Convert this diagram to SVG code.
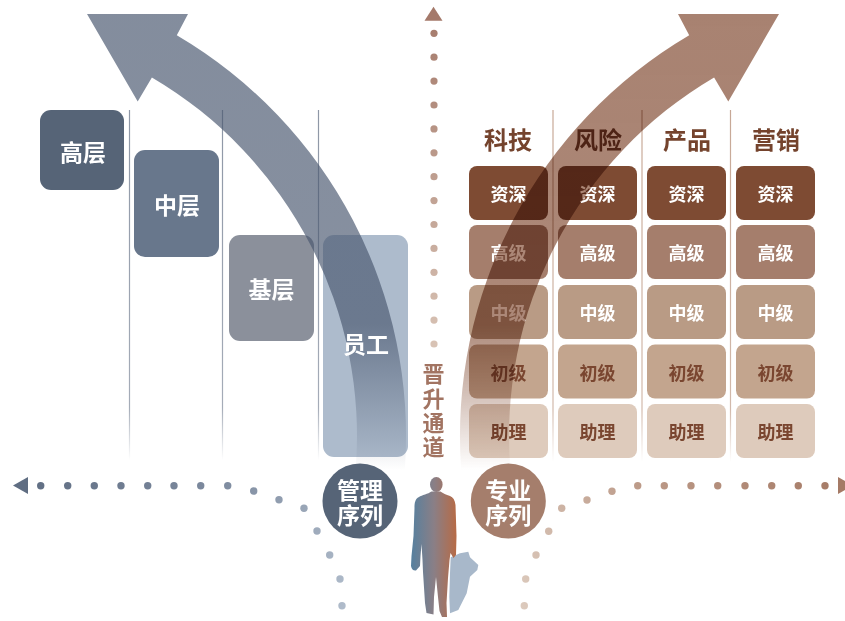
<svg xmlns="http://www.w3.org/2000/svg" xmlns:xlink="http://www.w3.org/1999/xlink" width="845" height="621" viewBox="0 0 845 621">
  <defs>
    <style>
      text { font-family: "Noto Sans CJK SC", "Noto Sans", sans-serif; font-weight: 700; text-anchor: middle; dominant-baseline: central; }
      .lbl-w { fill: #ffffff; }
      .box-t { font-size: 23px; }
      .head { font-size: 24px; fill: #74432d; }
      .cell-t { font-size: 18px; }
      .cell-d { fill: #7a4630; }
      .circ-t { font-size: 23px; fill: #ffffff; }
      .vert { font-size: 22px; fill: #a27462; }
      .grid-l { stroke: url(#lineFadeL); stroke-width: 1.2; }
      .grid-r { stroke: url(#lineFadeR); stroke-width: 1.2; }
      .r0 { fill: #7e4b33; }
      .r1 { fill: #a57e6c; }
      .r2 { fill: #b99b85; }
      .r3 { fill: #c3a58e; }
      .r4 { fill: #decbbc; }
    </style>
    <!-- vertical fades for the curved bands and grid lines -->
    <linearGradient id="bandFadeL" gradientUnits="userSpaceOnUse" x1="0" y1="14" x2="0" y2="470">
      <stop offset="0" stop-color="#49576f" stop-opacity="0.68"/>
      <stop offset="0.68" stop-color="#49576f" stop-opacity="0.66"/>
      <stop offset="1" stop-color="#49576f" stop-opacity="0"/>
    </linearGradient>
    <linearGradient id="bandFadeR" gradientUnits="userSpaceOnUse" x1="0" y1="14" x2="0" y2="470">
      <stop offset="0" stop-color="#a88271" stop-opacity="1"/>
      <stop offset="0.68" stop-color="#a88271" stop-opacity="0.95"/>
      <stop offset="1" stop-color="#a88271" stop-opacity="0"/>
    </linearGradient>
    <linearGradient id="lineFadeL" gradientUnits="userSpaceOnUse" x1="0" y1="110" x2="0" y2="460">
      <stop offset="0" stop-color="#8e97a6"/>
      <stop offset="0.85" stop-color="#8e97a6" stop-opacity="0.8"/>
      <stop offset="1" stop-color="#8e97a6" stop-opacity="0"/>
    </linearGradient>
    <linearGradient id="lineFadeR" gradientUnits="userSpaceOnUse" x1="0" y1="110" x2="0" y2="462">
      <stop offset="0" stop-color="#c7a896"/>
      <stop offset="0.85" stop-color="#c7a896" stop-opacity="0.8"/>
      <stop offset="1" stop-color="#c7a896" stop-opacity="0"/>
    </linearGradient>
    <!-- dotted path colours -->
    <linearGradient id="dotsV" gradientUnits="userSpaceOnUse" x1="0" y1="10" x2="0" y2="350">
      <stop offset="0" stop-color="#a4796a"/>
      <stop offset="1" stop-color="#d9c4b6"/>
    </linearGradient>
    <linearGradient id="dotsL" gradientUnits="userSpaceOnUse" x1="20" y1="486" x2="345" y2="610">
      <stop offset="0" stop-color="#5f6d82"/>
      <stop offset="0.55" stop-color="#7f8ca0"/>
      <stop offset="1" stop-color="#b0bccb"/>
    </linearGradient>
    <linearGradient id="dotsR" gradientUnits="userSpaceOnUse" x1="845" y1="486" x2="522" y2="610">
      <stop offset="0" stop-color="#a57a66"/>
      <stop offset="0.55" stop-color="#bc9a88"/>
      <stop offset="1" stop-color="#dccabd"/>
    </linearGradient>
    <linearGradient id="walker" gradientUnits="userSpaceOnUse" x1="411" y1="0" x2="457" y2="0">
      <stop offset="0" stop-color="#56809f"/>
      <stop offset="0.5" stop-color="#8a7f86"/>
      <stop offset="1" stop-color="#b86a44"/>
    </linearGradient>
    <!-- curved band with arrowhead, bending up to the right -->
    <path id="bend" d="M 461.2,470 A 465 465 0 0 1 689.2,35.2 L 678,14 L 779,14 L 728.3,101.5 L 714.1,77.4 A 416 416 0 0 0 510.4,470 Z"/>
  </defs>

  <rect width="845" height="621" fill="#ffffff"/>

  <!-- grid dividers -->
  <g id="grid-lines">
    <line class="grid-l" x1="129.5" y1="110" x2="129.5" y2="460"/>
    <line class="grid-l" x1="222.5" y1="110" x2="222.5" y2="460"/>
    <line class="grid-l" x1="318.5" y1="110" x2="318.5" y2="460"/>
    <line class="grid-r" x1="553" y1="110" x2="553" y2="462"/>
    <line class="grid-r" x1="642" y1="110" x2="642" y2="462"/>
    <line class="grid-r" x1="730.5" y1="110" x2="730.5" y2="462"/>
  </g>

  <!-- management ladder -->
  <g id="node-gaoceng"><rect x="40" y="110" width="84" height="80" rx="11" fill="#566477"/><text class="box-t lbl-w" x="83" y="151">高层</text></g>
  <g id="node-zhongceng"><rect x="134" y="150" width="85" height="107" rx="11" fill="#68778c"/><text class="box-t lbl-w" x="177" y="204">中层</text></g>
  <g id="node-jiceng"><rect x="229" y="235" width="85" height="106" rx="11" fill="#8b909b"/><text class="box-t lbl-w" x="271.5" y="287.5">基层</text></g>
  <g id="node-yuangong-box"><rect x="323" y="235" width="85" height="222" rx="11" fill="#adbbcc"/></g>

  <!-- left band (management path) -->
  <g id="connectors-bands">
    <use xlink:href="#bend" href="#bend" fill="url(#bandFadeL)" transform="matrix(-1 0 0 1 866 0)"/>
  </g>
  <g id="node-yuangong"><text class="box-t lbl-w" x="366" y="343">员工</text></g>

  <!-- professional grid -->
  <g id="headers">
    <text class="head" x="508" y="138">科技</text>
    <text class="head" x="598" y="138">风险</text>
    <text class="head" x="687" y="138">产品</text>
    <text class="head" x="776" y="138">营销</text>
  </g>
  <g id="cells">
    <g id="col-keji">
      <rect class="r0" x="469" y="166" width="79" height="54" rx="8"/><text class="cell-t lbl-w" x="508.5" y="193">资深</text>
      <rect class="r1" x="469" y="225" width="79" height="54" rx="8"/><text class="cell-t lbl-w" x="508.5" y="252">高级</text>
      <rect class="r2" x="469" y="285" width="79" height="54" rx="8"/><text class="cell-t lbl-w" x="508.5" y="312">中级</text>
      <rect class="r3" x="469" y="344.5" width="79" height="54" rx="8"/><text class="cell-t cell-d" x="508.5" y="371.5">初级</text>
      <rect class="r4" x="469" y="404" width="79" height="54" rx="8"/><text class="cell-t cell-d" x="508.5" y="431">助理</text>
    </g>
    <g id="col-fengxian">
      <rect class="r0" x="558" y="166" width="79" height="54" rx="8"/><text class="cell-t lbl-w" x="597.5" y="193">资深</text>
      <rect class="r1" x="558" y="225" width="79" height="54" rx="8"/><text class="cell-t lbl-w" x="597.5" y="252">高级</text>
      <rect class="r2" x="558" y="285" width="79" height="54" rx="8"/><text class="cell-t lbl-w" x="597.5" y="312">中级</text>
      <rect class="r3" x="558" y="344.5" width="79" height="54" rx="8"/><text class="cell-t cell-d" x="597.5" y="371.5">初级</text>
      <rect class="r4" x="558" y="404" width="79" height="54" rx="8"/><text class="cell-t cell-d" x="597.5" y="431">助理</text>
    </g>
    <g id="col-chanpin">
      <rect class="r0" x="647" y="166" width="79" height="54" rx="8"/><text class="cell-t lbl-w" x="686.5" y="193">资深</text>
      <rect class="r1" x="647" y="225" width="79" height="54" rx="8"/><text class="cell-t lbl-w" x="686.5" y="252">高级</text>
      <rect class="r2" x="647" y="285" width="79" height="54" rx="8"/><text class="cell-t lbl-w" x="686.5" y="312">中级</text>
      <rect class="r3" x="647" y="344.5" width="79" height="54" rx="8"/><text class="cell-t cell-d" x="686.5" y="371.5">初级</text>
      <rect class="r4" x="647" y="404" width="79" height="54" rx="8"/><text class="cell-t cell-d" x="686.5" y="431">助理</text>
    </g>
    <g id="col-yingxiao">
      <rect class="r0" x="736" y="166" width="79" height="54" rx="8"/><text class="cell-t lbl-w" x="775.5" y="193">资深</text>
      <rect class="r1" x="736" y="225" width="79" height="54" rx="8"/><text class="cell-t lbl-w" x="775.5" y="252">高级</text>
      <rect class="r2" x="736" y="285" width="79" height="54" rx="8"/><text class="cell-t lbl-w" x="775.5" y="312">中级</text>
      <rect class="r3" x="736" y="344.5" width="79" height="54" rx="8"/><text class="cell-t cell-d" x="775.5" y="371.5">初级</text>
      <rect class="r4" x="736" y="404" width="79" height="54" rx="8"/><text class="cell-t cell-d" x="775.5" y="431">助理</text>
    </g>
  </g>

  <!-- right band (professional path), multiplied over the grid -->
  <g id="connector-band-right" style="mix-blend-mode:multiply">
    <use xlink:href="#bend" href="#bend" fill="url(#bandFadeR)"/>
  </g>

  <!-- dotted axes -->
  <g id="connectors-dots">
    <polygon points="424.5,20.7 442.5,20.7 433.5,6.7" fill="#a4796a"/>
    <g fill="url(#dotsV)">
      <circle cx="434" cy="33.3" r="3.6"/><circle cx="434" cy="57.2" r="3.6"/><circle cx="434" cy="81.1" r="3.6"/>
      <circle cx="434" cy="105" r="3.6"/><circle cx="434" cy="128.9" r="3.6"/><circle cx="434" cy="152.8" r="3.6"/>
      <circle cx="434" cy="176.7" r="3.6"/><circle cx="434" cy="200.6" r="3.6"/><circle cx="434" cy="224.5" r="3.6"/>
      <circle cx="434" cy="248.4" r="3.6"/><circle cx="434" cy="272.3" r="3.6"/><circle cx="434" cy="296.2" r="3.6"/>
      <circle cx="434" cy="320.1" r="3.6"/><circle cx="434" cy="344" r="3.6"/>
    </g>
    <polygon points="13,485.5 28,477 28,494" fill="#5f6d82"/>
    <g fill="url(#dotsL)">
      <circle cx="40.7" cy="485.7" r="3.7"/><circle cx="67.7" cy="485.7" r="3.7"/><circle cx="94.3" cy="485.7" r="3.7"/>
      <circle cx="121" cy="485.7" r="3.7"/><circle cx="147.7" cy="485.7" r="3.7"/><circle cx="174" cy="485.7" r="3.7"/>
      <circle cx="200.7" cy="485.7" r="3.7"/><circle cx="227.7" cy="485.7" r="3.7"/><circle cx="253.7" cy="491" r="3.7"/>
      <circle cx="279" cy="499.7" r="3.7"/><circle cx="304" cy="508.3" r="3.7"/><circle cx="317" cy="531" r="3.7"/>
      <circle cx="329.7" cy="555" r="3.7"/><circle cx="340" cy="579" r="3.7"/><circle cx="342" cy="605.7" r="3.7"/>
    </g>
    <polygon points="853,485.5 838,477 838,494" fill="#a57a66"/>
    <g fill="url(#dotsR)">
      <circle cx="825" cy="485.7" r="3.7"/><circle cx="798.3" cy="485.7" r="3.7"/><circle cx="771.7" cy="485.7" r="3.7"/>
      <circle cx="745" cy="485.7" r="3.7"/><circle cx="717.7" cy="485.7" r="3.7"/><circle cx="691" cy="485.7" r="3.7"/>
      <circle cx="664.3" cy="485.7" r="3.7"/><circle cx="637.7" cy="485.7" r="3.7"/><circle cx="612" cy="491.3" r="3.7"/>
      <circle cx="587" cy="500" r="3.7"/><circle cx="561.7" cy="508.3" r="3.7"/><circle cx="548.7" cy="531.3" r="3.7"/>
      <circle cx="536" cy="555" r="3.7"/><circle cx="525.7" cy="579" r="3.7"/><circle cx="524.3" cy="605.7" r="3.7"/>
    </g>
  </g>

  <!-- vertical caption of the central axis -->
  <g id="label-jinsheng">
    <text class="vert" x="433.5" y="372">晋</text>
    <text class="vert" x="433.5" y="396.5">升</text>
    <text class="vert" x="433.5" y="421">通</text>
    <text class="vert" x="433.5" y="445">道</text>
  </g>

  <!-- sequence badges -->
  <g id="node-guanli">
    <circle cx="360" cy="501" r="37.5" fill="#566477"/>
    <text class="circ-t" x="360" y="488.5">管理</text>
    <text class="circ-t" x="360" y="513.5">序列</text>
  </g>
  <g id="node-zhuanye">
    <circle cx="508.3" cy="501" r="37.5" fill="#a57e6c"/>
    <text class="circ-t" x="508.3" y="488.5">专业</text>
    <text class="circ-t" x="508.3" y="513.5">序列</text>
  </g>

  <!-- walking figure with its shadow -->
  <g id="figure">
    <path d="M 450.7,557.3 L 460,553.3 L 468.3,551.7 L 470,557.3 L 478.3,565 L 477.3,570 L 470,576.7 L 466.7,593.3 L 458.3,610 L 450,613.3 L 449.3,596.7 L 450,573.3 Z" fill="#a8b8ca"/>
    <ellipse cx="436.3" cy="484.5" rx="6.3" ry="7.6" fill="url(#walker)"/>
    <path fill="url(#walker)" d="M 431.5,491.5 C 428,494 422,495 419,497 C 415,499 414.5,503 414.5,508 L 413.5,536 L 411.5,556 L 411,566 Q 412,571 416,570.5 L 420,566 L 420.5,556 L 421.5,544 L 422.5,560 L 423,572 L 425,603 L 426.5,613 L 433.5,614.5 L 434,597 L 436,577 L 438,597 L 439.5,611 L 442,617 L 447,617 L 446.5,603 L 448,578 L 449.5,560 L 450.5,553 L 453.5,558 L 456,555 L 456.5,536 L 455.5,505 C 455,500 453,497 450,496 C 446,494.5 443,493.5 440.5,491.5 Z"/>
  </g>
</svg>
